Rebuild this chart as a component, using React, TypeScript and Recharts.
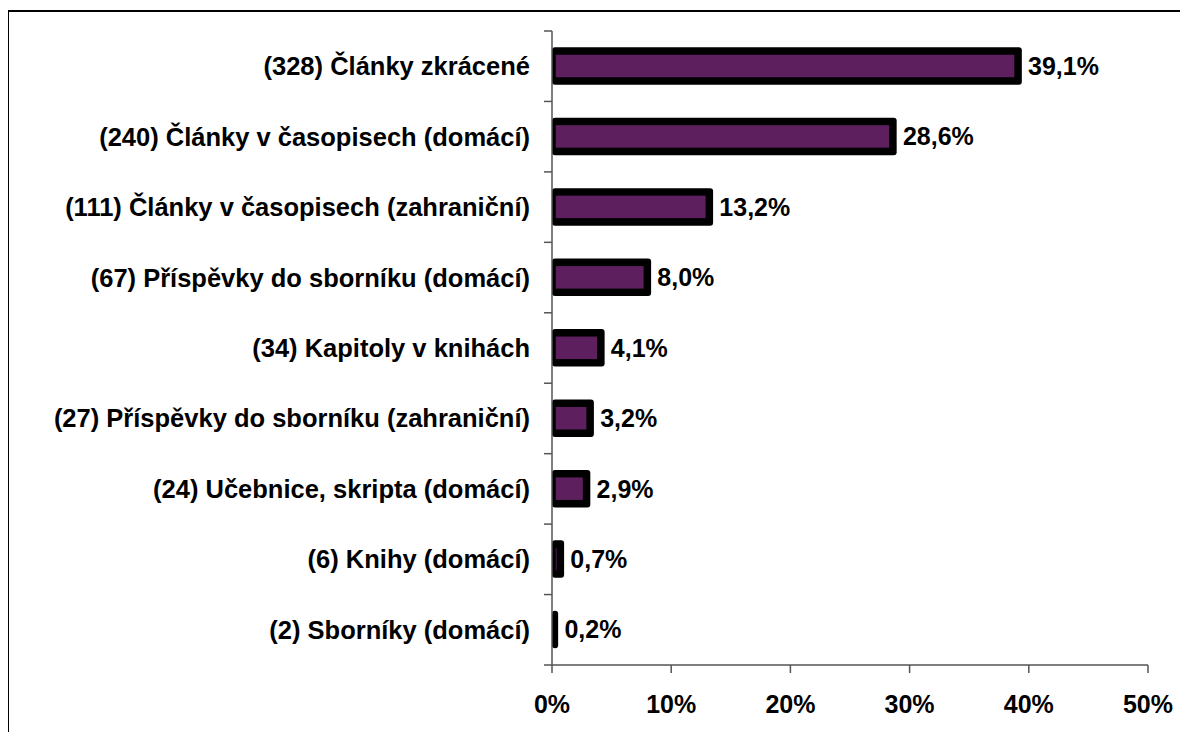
import { BarChart, Bar, XAxis, YAxis, LabelList } from 'recharts';

// Publikace podle typu – počty a podíly
const counts = [328, 240, 111, 67, 34, 27, 24, 6, 2];
const names = [
  'Články zkrácené',
  'Články v časopisech (domácí)',
  'Články v časopisech (zahraniční)',
  'Příspěvky do sborníku (domácí)',
  'Kapitoly v knihách',
  'Příspěvky do sborníku (zahraniční)',
  'Učebnice, skripta (domácí)',
  'Knihy (domácí)',
  'Sborníky (domácí)',
];
const shares = [39.1, 28.6, 13.2, 8.0, 4.1, 3.2, 2.9, 0.7, 0.2];
const xTicks = [0, 10, 20, 30, 40, 50];

const data = names.map((n, i) => ({
  label: `(${counts[i]}) ${n}`,
  share: shares[i],
}));

const FONT = '"Liberation Sans", Arial, sans-serif';
const PURPLE = '#5e1f5e';
const AXIS = '#555';

const W = 1172;
const H = 724;
const MARGIN = { top: 23, right: 32, bottom: 0, left: 0 };
const Y_AXIS_W = 544;
const X_AXIS_H = 67;
const BAND = (H - MARGIN.top - X_AXIS_H) / names.length;
const STROKE = 7.5;

const fmt = (v: number) => v.toFixed(1).replace('.', ',') + '%';

// popisek kategorie + čárka na hranici pásma (Excel má značky mezi kategoriemi)
const CategoryTick = ({ x, y, payload, index }: any) => {
  const axisX = x + 22;
  return (
    <g>
      <line x1={axisX - 8} x2={axisX} y1={y - BAND / 2} y2={y - BAND / 2} stroke={AXIS} strokeWidth={1.5} />
      {index === names.length - 1 && (
        <line x1={axisX - 8} x2={axisX} y1={y + BAND / 2} y2={y + BAND / 2} stroke={AXIS} strokeWidth={1.5} />
      )}
      <text x={x} y={y} textAnchor="end" dominantBaseline="central" fontFamily={FONT} fontWeight="bold" fontSize={25.5} fill="#000">
        {payload.value}
      </text>
    </g>
  );
};

// sloupec s tlustým černým okrajem, vlevo oříznutý osou
const OutlinedBar = ({ x, y, width, height }: any) => {
  const h = STROKE / 2;
  return (
    <g>
      <rect x={x} y={y - h} width={width + h} height={height + STROKE} rx={3} ry={3} fill="#000" />
      {width > h * 2 && (
        <rect x={x + h} y={y + h} width={width - h * 2} height={height - STROKE} fill={PURPLE} />
      )}
    </g>
  );
};

export default function App() {
  return (
    <div style={{ position: 'relative', width: W, height: H }}>
      <div style={{ position: 'absolute', left: 0, top: 0 }}>
        <BarChart width={W} height={H} data={data} layout="vertical" margin={MARGIN} barCategoryGap={0}>
          <XAxis
            type="number"
            domain={[0, 50]}
            ticks={xTicks}
            height={X_AXIS_H}
            tickFormatter={(v) => `${v}%`}
            tick={{ fontFamily: FONT, fontWeight: 'bold', fontSize: 25, fill: '#000' }}
            tickSize={8}
            tickMargin={22}
            stroke={AXIS}
            strokeWidth={1.5}
            interval={0}
          />
          <YAxis
            type="category"
            dataKey="label"
            width={Y_AXIS_W}
            tick={<CategoryTick />}
            tickLine={false}
            tickSize={8}
            tickMargin={14}
            stroke={AXIS}
            strokeWidth={1.5}
            interval={0}
          />
          <Bar dataKey="share" barSize={30} shape={<OutlinedBar />} isAnimationActive={false}>
            <LabelList
              dataKey="share"
              position="right"
              offset={10}
              formatter={(v: any) => fmt(Number(v))}
              style={{ fontFamily: FONT, fontWeight: 'bold', fontSize: 25, fill: '#000' }}
            />
          </Bar>
        </BarChart>
      </div>
      {/* rámeček grafu: jen levá a horní hrana jsou v záběru */}
      <div style={{ position: 'absolute', left: -1, top: 2, width: 2, height: H + 6, background: '#000', zIndex: 2 }} />
      <div style={{ position: 'absolute', left: -1, top: 2, width: W + 1, height: 2, background: '#000', zIndex: 2 }} />
    </div>
  );
}
